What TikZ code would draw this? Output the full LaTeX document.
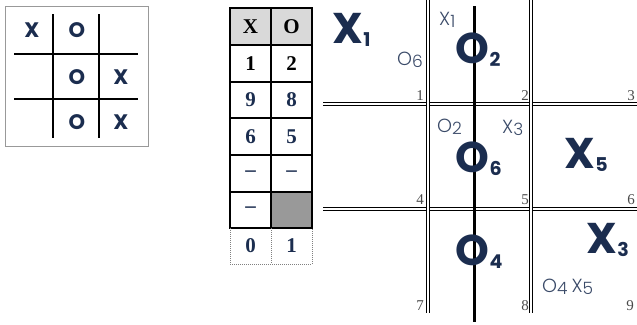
\documentclass[tikz,border=0pt]{standalone}
\usepackage{fontspec}
\setmainfont{Liberation Serif}
\newfontfamily\pop{Poppins}
\newfontfamily\popL{Poppins Light}
\definecolor{navy}{HTML}{1B2D4F}
\definecolor{smallc}{HTML}{3A4A68}
\definecolor{cornerc}{HTML}{4A4A4A}
\definecolor{hdrgray}{HTML}{D9D9D9}
\definecolor{cellgray}{HTML}{999999}
\newcommand\BigLab[2]{#1\kern0.5pt\raisebox{-3pt}{\fontsize{19}{19}\selectfont #2}}
\newcommand\SmLab[2]{#1\raisebox{-2pt}{\fontsize{17}{17}\selectfont #2}}
\tikzset{
  biglab/.style={anchor=base west, inner sep=0pt, text=navy, font=\pop\bfseries\fontsize{43}{43}\selectfont},
  smlab/.style={anchor=base west, inner sep=0pt, text=smallc, font=\popL\fontsize{19}{19}\selectfont},
  cornernum/.style={anchor=base east, inner sep=0pt, text=cornerc, font=\fontsize{15}{15}\selectfont},
  gridletter/.style={inner sep=0pt, text=navy, font=\pop\bfseries\fontsize{21}{21}\selectfont},
  cell/.style={inner sep=0pt, font=\bfseries\fontsize{21}{21}\selectfont},
  dbl/.style={draw=black, line width=1.1pt, double=white, double distance=2.2pt},
  thickline/.style={draw=black, line width=3pt},
  tttline/.style={draw=black, line width=1.8pt},
  tblline/.style={draw=black, line width=1.4pt},
  dotline/.style={draw=gray, line width=1pt, densely dotted}
}
\begin{document}
\begin{tikzpicture}[x=1pt,y=-1pt]
\useasboundingbox (0,0) rectangle (637,324);
% ---------- left board ----------
\draw[draw=gray!80, line width=0.9pt] (5,6) rectangle (148,146);
\draw[tttline] (53,14) -- (53,138);
\draw[tttline] (99,14) -- (99,138);
\draw[tttline] (14,54) -- (138,54);
\draw[tttline] (14,99) -- (138,99);
\node[gridletter] (a11) at (32,30) {X};
\node[gridletter] (a12) at (77,30) {O};
\node[gridletter] (a22) at (77,77) {O};
\node[gridletter] (a23) at (121,77) {X};
\node[gridletter] (a32) at (77,122) {O};
\node[gridletter] (a33) at (121,122) {X};
% ---------- table ----------
\fill[hdrgray] (230,8) rectangle (312,45);
\fill[cellgray] (271,192) rectangle (312,228);
\draw[tblline] (230,8) rectangle (312,228);
\foreach \yy in {45,82,118,155,192} \draw[tblline] (230,\yy) -- (312,\yy);
\draw[tblline] (271,8) -- (271,228);
\draw[dotline] (230,228) -- (230,264) -- (312,264) -- (312,228);
\draw[dotline] (271,228) -- (271,264);
\node[cell, text=black] (h1) at (250.5,27) {X};
\node[cell, text=black] (h2) at (291.5,27) {O};
\node[cell, text=black] (r11) at (250.5,63.5) {1};
\node[cell, text=black] (r12) at (291.5,63.5) {2};
\node[cell, text=navy] (r21) at (250.5,100) {9};
\node[cell, text=navy] (r22) at (291.5,100) {8};
\node[cell, text=navy] (r31) at (250.5,136.5) {6};
\node[cell, text=navy] (r32) at (291.5,136.5) {5};
\node[cell, text=navy] (r41) at (250.5,173.5) {–};
\node[cell, text=navy] (r42) at (291.5,173.5) {–};
\node[cell, text=navy] (r51) at (250.5,210) {–};
\node[cell, text=navy] (r61) at (250.5,246) {0};
\node[cell, text=navy] (r62) at (291.5,246) {1};
% ---------- right board ----------
\draw[dbl] (323,104) -- (637,104);
\draw[dbl] (323,209) -- (637,209);
\draw[dbl] (428,0) -- (428,313);
\draw[dbl] (531,0) -- (531,313);
\draw[thickline] (474,6) -- (474,322);
% corner numbers
\node[cornernum] (c1) at (424,100) {1};
\node[cornernum] (c2) at (529,100) {2};
\node[cornernum] (c3) at (635,100) {3};
\node[cornernum] (c4) at (424,204) {4};
\node[cornernum] (c5) at (529,204) {5};
\node[cornernum] (c6) at (635,204) {6};
\node[cornernum] (c7) at (424,310) {7};
\node[cornernum] (c8) at (529,310) {8};
\node[cornernum] (c9) at (634,310) {9};
% big labels
\node[biglab] (bx1) at (332,43) {\BigLab{X}{1}};
\node[biglab] (bo2) at (455,63) {\BigLab{O}{2}};
\node[biglab] (bo6) at (455,172) {\BigLab{O}{6}};
\node[biglab] (bx5) at (564,168) {\BigLab{X}{5}};
\node[biglab] (bo4) at (455,265) {\BigLab{O}{4}};
\node[biglab] (bx3) at (586,253) {\BigLab{X}{3}};
% small labels
\node[smlab] (sx1) at (439,25) {\SmLab{X}{1}};
\node[smlab] (so6) at (397,65) {\SmLab{O}{6}};
\node[smlab] (so2) at (437,132) {\SmLab{O}{2}};
\node[smlab] (sx3) at (502,133) {\SmLab{X}{3}};
\node[smlab] (so4x5) at (542,292) {\SmLab{O}{4}\kern4pt\SmLab{X}{5}};
\end{tikzpicture}
\end{document}
